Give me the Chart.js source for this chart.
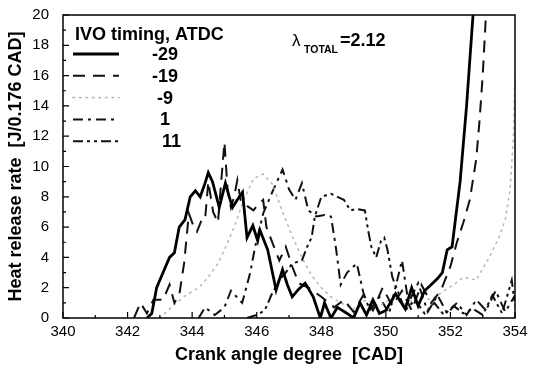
<!DOCTYPE html>
<html><head><meta charset="utf-8">
<script src="https://cdn.jsdelivr.net/npm/chart.js@4.4.1/dist/chart.umd.min.js"></script>
<style>html,body{margin:0;padding:0;background:#fff;}#wrap{width:534px;height:370px;}</style>
</head><body><div id="wrap"><canvas id="c" width="534" height="370"></canvas></div>
<script>
// ---- data ----
const xTickValues = [340,342,344,346,348,350,352,354];
const yTickValues = [0,2,4,6,8,10,12,14,16,18,20];
const legendTitle = "IVO timing, ATDC";
const seriesLabels = ["-29","-19","-9","1","11"];
const xTitle = "Crank angle degree  [CAD]";
const yTitle = "Heat release rate  [J/0.176 CAD]";

const cadM29 = [342.6,342.75,342.9,343.1,343.3,343.45,343.6,343.78,343.94,344.1,344.25,344.4,344.5,344.63,344.84,345.03,345.15,345.25,345.4,345.56,345.7,345.88,346.03,346.1,346.34,346.6,346.8,346.95,347.1,347.3,347.5,347.75,347.97,348.1,348.3,348.5,348.8,349.0,349.2,349.4,349.6,349.8,350.0,350.3,350.6,350.8,351.0,351.2,351.4,351.6,351.75,351.9,352.05,352.3,352.5,352.7,352.8];
const hrrM29 = [0,0.3,2.0,3.0,4.0,4.3,6.0,6.5,8.0,8.4,8.0,8.9,9.6,9.0,7.3,8.9,8.0,7.3,7.8,8.3,5.3,6.1,5.1,5.8,4.5,1.85,3.2,2.2,1.4,1.9,2.3,1.4,0,1.0,0,0.7,0.3,0,1.0,0.2,1.2,0.3,0.5,1.6,0.6,2.0,0.8,1.8,2.2,2.6,3.0,4.5,4.7,9.0,14.0,20.0,22.0];

const cadM19 = [342.2,342.4,342.6,342.8,343.1,343.3,343.45,343.6,343.75,343.9,344.05,344.15,344.3,344.4,344.5,344.65,344.8,344.9,345.0,345.1,345.2,345.3,345.4,345.5,345.7,345.9,346.05,346.2,346.3,346.5,346.7,346.9,347.1,347.3,347.6,348.0,348.4,348.7,349.0,349.3,349.6,349.9,350.2,350.5,350.8,351.1,351.4,351.7,352.0,352.2,352.4,352.6,352.8,352.9,353.0,353.1,353.2];
const hrrM19 = [0,1.0,0.3,1.2,1.2,2.2,1.0,1.5,3.6,6.9,6.0,5.7,6.5,6.5,9.0,7.0,6.3,9.0,11.6,8.4,7.3,8.0,9.1,7.8,7.4,7.1,7.5,7.8,6.0,4.9,3.8,4.7,3.4,2.3,2.0,1.4,0.7,1.2,0.4,1.5,0.5,2.0,0.8,1.8,0.5,2.2,1.0,1.8,3.4,5.0,6.3,7.8,10.5,13.0,16.0,20.0,22.0];

const cadM9 = [343.0,343.4,343.8,344.2,344.5,344.8,345.0,345.3,345.6,345.9,346.2,346.5,346.8,347.1,347.4,347.7,348.0,348.3,348.6,349.0,349.4,349.8,350.2,350.6,351.0,351.4,351.8,352.1,352.4,352.8,353.2,353.5,353.7,353.85,353.95,354.0];
const hrrM9 = [0,0.8,1.5,2.0,2.7,3.6,4.5,6.0,7.8,9.2,9.5,8.8,7.0,5.4,4.0,2.8,2.0,1.4,1.0,0.6,1.2,0.8,1.3,0.9,1.4,1.2,1.8,2.2,2.7,2.5,4.0,5.3,6.5,8.5,12.0,16.0];

const cadP1 = [344.2,344.4,344.7,345.0,345.2,345.55,345.8,345.95,346.1,346.2,346.5,346.8,347.0,347.2,347.4,347.6,347.85,348.1,348.3,348.45,348.6,348.8,349.1,349.3,349.5,349.8,350.1,350.5,350.7,351.0,351.3,351.6,351.9,352.2,352.5,352.8,353.1,353.4,353.7,354.0];
const hrrP1 = [0,0.7,0.2,0.7,1.8,1.0,3.0,4.7,6.0,6.9,8.4,9.8,8.5,7.8,8.9,7.1,6.7,6.8,6.7,4.7,2.2,3.0,3.6,1.7,0.5,1.4,0.3,3.8,1.0,2.3,0.4,1.5,0.3,1.0,0.2,1.2,0.5,1.8,0.4,1.5];

const cadP11 = [345.7,346.0,346.25,346.45,346.7,346.9,347.1,347.4,347.6,347.7,347.8,348.0,348.3,348.5,348.7,348.9,349.1,349.35,349.45,349.55,349.7,349.85,349.95,350.05,350.2,350.4,350.6,350.9,351.2,351.5,351.8,352.1,352.4,352.7,353.0,353.3,353.6,353.9,354.0];
const hrrP11 = [0,0.2,0.5,1.5,2.5,3.0,3.6,3.8,4.9,5.3,6.7,8.0,8.2,8.0,7.8,7.1,7.2,7.1,5.8,4.7,4.0,5.1,5.3,4.5,2.7,1.6,0.5,1.2,0.3,1.0,0.2,0.8,0.3,0.6,0.2,1.5,0.3,2.5,0.8];

// ---- build ----
const FONT = "'Liberation Sans', Arial, sans-serif";
const pts = (xs, ys) => xs.map((v, i) => ({x: v, y: ys[i]}));
const styles = [
  {color:'#000', width:2.8, dash:[]},
  {color:'#111', width:2.0, dash:[12,8]},
  {color:'#b8b8b8', width:1.6, dash:[1.5,5]},
  {color:'#111', width:2.0, dash:[10,5,3,5]},
  {color:'#111', width:2.0, dash:[10,4,3,4,3,4]}
];
const series = [[cadM29,hrrM29],[cadM19,hrrM19],[cadM9,hrrM9],[cadP1,hrrP1],[cadP11,hrrP11]];
const datasets = series.map((s, i) => ({
  label: seriesLabels[i],
  data: pts(s[0], s[1]),
  borderColor: styles[i].color,
  borderWidth: styles[i].width,
  borderDash: styles[i].dash,
  borderCapStyle: i === 2 ? 'round' : 'butt',
  pointRadius: 0,
  tension: 0,
  fill: false
}));

const framePlugin = {
  id: 'frame',
  afterDatasetsDraw(chart) {
    const {ctx, chartArea: a, scales: {x, y}} = chart;
    ctx.save();
    ctx.strokeStyle = '#000';
    ctx.lineWidth = 1.5;
    ctx.strokeRect(a.left, a.top, a.right - a.left, a.bottom - a.top);
    ctx.lineWidth = 1.2;
    ctx.beginPath();
    for (let v = 0; v <= 20; v++) {
      const py = y.getPixelForValue(v);
      const L = v % 2 === 0 ? 6 : 3;
      ctx.moveTo(a.left, py); ctx.lineTo(a.left + L, py);
    }
    for (let v = 340; v <= 354; v++) {
      const px = x.getPixelForValue(v);
      const L = v % 2 === 0 ? 6 : 3;
      ctx.moveTo(px, a.bottom); ctx.lineTo(px, a.bottom - L);
    }
    ctx.stroke();

    // legend
    ctx.fillStyle = '#000';
    ctx.textBaseline = 'alphabetic';
    ctx.font = "bold 18px " + FONT;
    ctx.textAlign = 'left';
    ctx.fillText(legendTitle, a.left + 12, a.top + 25);
    const labX = [152, 152, 157, 160, 162];
    datasets.forEach((d, i) => {
      const yy = a.top + 39 + i * 21.8;
      ctx.save();
      ctx.strokeStyle = d.borderColor;
      ctx.lineWidth = d.borderWidth;
      ctx.setLineDash(d.borderDash);
      ctx.lineCap = d.borderCapStyle;
      ctx.beginPath(); ctx.moveTo(a.left + 10, yy); ctx.lineTo(a.left + 56, yy); ctx.stroke();
      ctx.restore();
      ctx.textBaseline = 'middle';
      ctx.font = "bold 18px " + FONT;
      ctx.fillText(d.label, labX[i], yy + 1);
    });

    // lambda annotation
    ctx.textBaseline = 'alphabetic';
    ctx.font = "17px " + FONT;
    ctx.fillText("λ", 292, 46);
    ctx.font = "bold 10.5px " + FONT;
    ctx.fillText("TOTAL", 304, 53);
    ctx.font = "bold 18px " + FONT;
    ctx.fillText("=2.12", 340, 46);
    ctx.restore();
  }
};

new Chart(document.getElementById('c'), {
  type: 'line',
  data: {datasets},
  plugins: [framePlugin],
  options: {
    responsive: false,
    animation: false,
    layout: {padding: {left: 0, right: 19, top: 15, bottom: 0}},
    plugins: {legend: {display: false}, tooltip: {enabled: false}},
    scales: {
      x: {
        type: 'linear', min: 340, max: 354,
        afterBuildTicks: s => { s.ticks = xTickValues.map(v => ({value: v})); },
        afterFit: s => { s.height = 52; },
        grid: {display: false},
        border: {display: false},
        ticks: {color: '#000', font: {family: FONT, size: 15}, padding: -3, maxRotation: 0, autoSkip: false},
        title: {display: true, text: xTitle, color: '#000', font: {family: FONT, size: 18, weight: 'bold'}, padding: {top: 0, bottom: 4}}
      },
      y: {
        type: 'linear', min: 0, max: 20,
        afterBuildTicks: s => { s.ticks = yTickValues.map(v => ({value: v})); },
        afterFit: s => { s.width = 63; },
        grid: {display: false},
        border: {display: false},
        ticks: {color: '#000', font: {family: FONT, size: 15}, padding: 6, autoSkip: false},
        title: {display: true, text: yTitle, color: '#000', font: {family: FONT, size: 18, weight: 'bold'}, padding: {top: 5, bottom: 0}}
      }
    }
  }
});
</script></body></html>
